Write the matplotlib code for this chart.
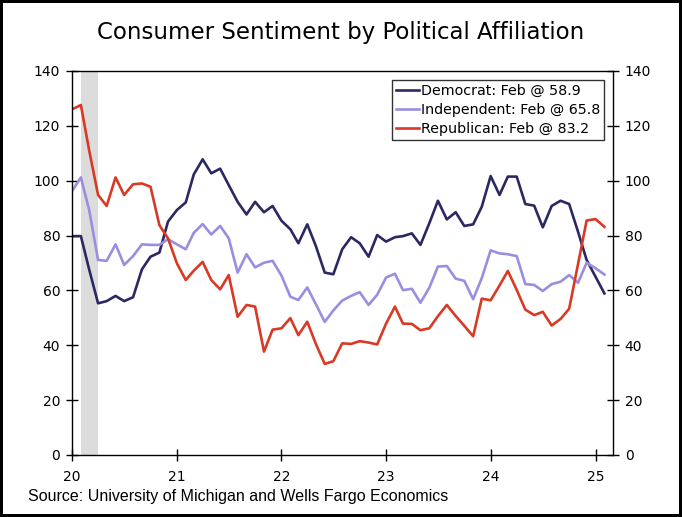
import matplotlib
matplotlib.use("Agg")
import matplotlib.pyplot as plt
import matplotlib.dates as mdates
import pandas as pd

# monthly, Jan 2020 - Feb 2025
months = pd.date_range("2020-01-01", periods=62, freq="MS")

democrat = [79.8, 79.8, 67.6, 55.3, 56.1, 58.0, 56.1, 57.5, 67.7, 72.3, 73.8, 85.1,
            89.3, 92.1, 102.3, 107.8, 102.7, 104.4, 98.4, 92.3, 87.7, 92.3, 88.5, 90.8,
            85.4, 82.3, 77.2, 84.1, 76.2, 66.5, 65.9, 75.0, 79.4, 77.2, 72.3, 80.2,
            77.8, 79.4, 79.8, 80.8, 76.6, 84.5, 92.7, 85.9, 88.5, 83.5, 84.1, 90.5,
            101.7, 94.8, 101.5, 101.5, 91.5, 90.9, 83.0, 90.8, 92.7, 91.5, 81.4, 71.1,
            65.0, 58.9]
independent = [96.2, 101.2, 89.3, 71.1, 70.8, 76.8, 69.3, 72.5, 76.8, 76.6, 76.6, 78.7,
               76.8, 75.0, 81.0, 84.2, 80.4, 83.5, 79.0, 66.5, 73.2, 68.4, 70.1, 70.8,
               65.4, 57.7, 56.5, 61.1, 55.0, 48.5, 52.7, 56.3, 58.0, 59.4, 54.7, 58.4,
               64.7, 66.1, 60.1, 60.6, 55.5, 61.0, 68.7, 68.9, 64.3, 63.5, 56.8, 64.5,
               74.6, 73.5, 73.2, 72.5, 62.3, 62.0, 59.8, 62.3, 63.2, 65.6, 62.8, 70.1,
               68.1, 65.8]
republican = [126.0, 127.6, 111.0, 94.8, 90.8, 101.2, 94.8, 98.7, 99.0, 97.8, 83.8, 79.0,
              69.9, 63.8, 67.2, 70.4, 63.8, 60.4, 65.6, 50.4, 54.7, 54.1, 37.7, 45.7,
              46.2, 49.9, 43.7, 48.6, 40.5, 33.2, 34.2, 40.7, 40.5, 41.5, 41.0, 40.3,
              47.9, 54.1, 47.9, 47.8, 45.5, 46.2, 50.6, 54.7, 50.7, 47.1, 43.3, 57.0,
              56.4, 61.8, 67.1, 60.2, 53.0, 51.0, 52.2, 47.2, 49.6, 53.3, 69.6, 85.5,
              86.0, 83.2]

labels = ["Democrat: Feb @ 58.9", "Independent: Feb @ 65.8", "Republican: Feb @ 83.2"]
colors = ["#2b2862", "#9b8ee0", "#d93a26"]
recession = ("2020-02-01", "2020-04-01")

fig = plt.figure(figsize=(6.82, 5.17), dpi=100)
fig.patch.set_edgecolor("black")
fig.patch.set_linewidth(3)
ax = fig.add_axes([72 / 682, 62 / 517, 541 / 682, 384 / 517])

ax.axvspan(pd.Timestamp(recession[0]), pd.Timestamp(recession[1]), color="#dcdcdc", lw=0, zorder=0)

for series, lab, col in zip([democrat, independent, republican], labels, colors):
    ax.plot(months, series, color=col, lw=1.9, label=lab)

ax.set_ylim(0, 140)
ax.set_yticks(range(0, 141, 20))
ax.set_xlim(pd.Timestamp("2020-01-01"), pd.Timestamp("2025-03-03"))
ax.xaxis.set_major_locator(mdates.YearLocator())
ax.xaxis.set_major_formatter(mdates.DateFormatter("%y"))

ax.tick_params(axis="y", direction="inout", length=8, width=1, left=True, right=True,
               labelleft=True, labelright=True, labelsize=10, pad=4.5)
ax.tick_params(axis="x", direction="inout", length=8, width=1, labelsize=10, pad=7)
for sp in ax.spines.values():
    sp.set_linewidth(1)

leg = ax.legend(loc="upper right", fontsize=10.3, frameon=True, fancybox=False,
                handlelength=1.6, handletextpad=0.1, labelspacing=0.35,
                borderpad=0.3, borderaxespad=0.6)
leg.get_frame().set_edgecolor("black")
leg.get_frame().set_linewidth(1)

fig.text(0.5, 1 - 39.5 / 517, "Consumer Sentiment by Political Affiliation",
         ha="center", va="baseline", fontsize=16.5)
fig.text(28 / 682, 1 - 501.5 / 517, "Source: University of Michigan and Wells Fargo Economics",
         ha="left", va="baseline", fontsize=11.5, family="Liberation Sans")

fig.savefig("out.png", dpi=100, edgecolor=fig.get_edgecolor())
